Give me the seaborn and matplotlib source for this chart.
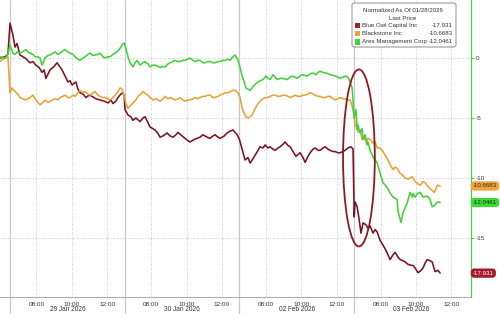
import matplotlib
matplotlib.use("Agg")
import matplotlib.pyplot as plt
import matplotlib.transforms as mtransforms
from matplotlib.patches import Ellipse, FancyBboxPatch, Rectangle
import seaborn as sns
import pandas as pd

# ---------------- data (trading minutes since 29 Jan open, % change) ----------------
owl_t = [-34, -17, -7, 0, 3, 10, 17, 24, 34, 51, 68, 78, 88, 99, 109, 116, 122, 136, 150, 160,
         177, 187, 197, 204, 211, 218, 224, 231, 238, 248, 258, 269, 279, 292, 306, 320, 333, 343,
         350, 360, 367, 377, 384, 388, 391, 401, 411, 418, 428, 442, 452, 459, 469, 476, 486, 493,
         503, 510, 520, 534, 544, 554, 564, 571, 585, 595, 605, 612, 626, 636, 646, 656, 670, 680,
         690, 697, 707, 714, 728, 738, 748, 758, 765, 772, 780, 789, 799, 809, 816, 826, 833, 843,
         850, 860, 867, 877, 884, 894, 901, 911, 918, 928, 935, 945, 952, 962, 972, 986, 996, 1003,
         1013, 1020, 1030, 1037, 1047, 1054, 1064, 1071, 1081, 1088, 1098, 1105, 1115, 1122, 1132,
         1139, 1149, 1159, 1166, 1170, 1173, 1180, 1187, 1193, 1200, 1210, 1217, 1224, 1234, 1241,
         1248, 1258, 1268, 1275, 1282, 1292, 1302, 1309, 1319, 1326, 1336, 1343, 1353, 1360, 1370,
         1377, 1387, 1397, 1404, 1411, 1418, 1428, 1435, 1445, 1455, 1462]
owl_v = [0.0, 0.1, 0.3, 2.9, 2.6, 1.9, 0.9, 1.2, 0.25, 0.0, -0.4, -0.3, -0.6, -0.8, -1.2, -1.0, -1.7,
         -1.0, -0.7, -0.4, -1.0, -1.5, -2.0, -1.9, -2.25, -2.1, -2.0, -2.6, -2.9, -3.0, -3.3, -3.1,
         -3.2, -3.4, -3.5, -3.6, -3.75, -3.5, -3.8, -3.6, -3.3, -3.0, -2.9, -3.2, -4.3, -4.75, -4.9,
         -5.2, -5.0, -5.3, -5.0, -4.9, -5.4, -5.75, -5.9, -6.0, -6.3, -6.6, -6.5, -6.25, -6.5, -6.6,
         -6.4, -6.2, -6.5, -6.7, -6.9, -7.0, -6.8, -6.7, -6.6, -6.4, -6.6, -6.7, -6.5, -6.4, -6.6,
         -6.7, -6.5, -6.25, -6.1, -6.0, -6.2, -6.4, -6.8, -7.6, -8.5, -8.3, -8.75, -8.4, -8.1, -7.7,
         -7.4, -7.5, -7.25, -7.5, -7.4, -7.6, -7.7, -7.5, -7.4, -7.2, -7.0, -7.3, -7.4, -7.8, -8.2,
         -7.9, -8.3, -8.7, -8.2, -7.9, -7.6, -7.5, -7.7, -7.7, -7.5, -7.4, -7.6, -7.7, -7.8, -7.8,
         -7.9, -7.9, -7.8, -7.7, -7.5, -7.4, -7.6, -13.25, -12.0, -12.4, -13.5, -14.6, -13.75,
         -13.9, -14.2, -14.0, -14.6, -14.3, -14.5, -15.2, -15.6, -15.9, -16.25, -16.8, -16.4, -16.2,
         -16.6, -16.8, -16.9, -17.0, -17.2, -17.25, -17.3, -17.5, -17.9, -17.7, -17.5, -17.1, -16.8,
         -16.9, -17.0, -17.8, -17.7, -17.931]

bx_t = [-34, -24, -14, -7, 0, 7, 17, 27, 34, 51, 61, 68, 78, 88, 95, 102, 112, 119, 129, 136, 153,
        163, 170, 180, 187, 197, 204, 214, 221, 231, 238, 248, 255, 265, 272, 282, 289, 299, 306,
        316, 323, 333, 340, 350, 357, 367, 374, 381, 388, 394, 401, 408, 418, 428, 435, 445, 452,
        462, 469, 476, 486, 496, 510, 520, 527, 537, 544, 554, 561, 571, 578, 588, 595, 605, 612,
        622, 629, 639, 646, 656, 663, 673, 680, 690, 697, 707, 714, 724, 731, 741, 748, 758, 765,
        775, 782, 789, 796, 802, 809, 816, 823, 830, 836, 843, 850, 860, 867, 877, 884, 894, 901,
        911, 918, 928, 935, 945, 952, 962, 969, 979, 986, 996, 1003, 1013, 1020, 1030, 1037, 1047,
        1054, 1064, 1071, 1081, 1088, 1098, 1105, 1115, 1122, 1132, 1139, 1149, 1156, 1163, 1170,
        1173, 1180, 1183, 1190, 1197, 1204, 1210, 1217, 1224, 1234, 1241, 1248, 1258, 1268, 1275,
        1285, 1292, 1302, 1309, 1316, 1326, 1336, 1343, 1353, 1360, 1367, 1377, 1387, 1394, 1404,
        1411, 1421, 1428, 1442, 1448, 1452, 1462]
bx_v = [-0.3, -0.1, 0.0, 0.1, -2.9, -2.5, -2.8, -3.0, -3.3, -3.5, -3.4, -3.3, -3.1, -3.5, -3.7,
        -3.9, -3.7, -3.5, -3.7, -3.6, -3.4, -3.5, -3.3, -3.2, -3.1, -3.3, -3.3, -3.1, -3.2, -2.9,
        -2.7, -2.9, -2.8, -3.0, -3.1, -2.9, -2.8, -3.1, -3.2, -3.3, -3.3, -3.4, -3.5, -3.3, -3.1,
        -2.8, -2.5, -2.6, -3.2, -3.8, -4.2, -4.0, -3.75, -3.5, -3.2, -3.0, -2.8, -3.0, -3.1, -3.3,
        -3.5, -3.4, -3.6, -3.4, -3.2, -3.4, -3.3, -3.4, -3.5, -3.4, -3.3, -3.5, -3.6, -3.5, -3.5,
        -3.4, -3.3, -3.4, -3.3, -3.2, -3.2, -3.1, -3.1, -3.3, -3.3, -3.2, -3.1, -3.0, -2.9, -2.9,
        -2.8, -2.7, -2.7, -2.9, -3.3, -4.2, -4.6, -4.9, -5.0, -4.9, -4.75, -4.4, -4.1, -3.8, -3.6,
        -3.4, -3.3, -3.3, -3.2, -3.1, -3.1, -3.2, -3.2, -3.1, -3.1, -3.2, -3.3, -3.2, -3.1, -3.2,
        -3.2, -3.1, -3.1, -3.0, -2.9, -3.0, -3.1, -3.2, -3.2, -3.3, -3.3, -3.2, -3.2, -3.4, -3.5,
        -3.4, -3.3, -3.4, -3.4, -3.5, -3.5, -4.0, -4.9, -5.7, -5.5, -6.2, -6.0, -6.8, -6.6, -7.0,
        -6.7, -6.8, -7.1, -7.0, -7.5, -7.5, -7.8, -8.1, -8.5, -8.9, -9.3, -9.1, -9.2, -9.6, -9.8,
        -10.0, -10.1, -10.0, -9.9, -10.3, -10.5, -10.6, -10.3, -10.4, -10.7, -10.9, -11.2, -10.9,
        -10.6, -10.6683]

ares_t = [-34, -24, -17, -7, 0, 7, 10, 17, 24, 34, 41, 48, 54, 61, 68, 78, 85, 95, 102, 109, 116,
          119, 129, 136, 146, 153, 163, 170, 180, 187, 197, 204, 214, 221, 231, 238, 248, 255, 265,
          272, 282, 289, 299, 306, 316, 323, 333, 340, 350, 357, 367, 374, 381, 388, 394, 401, 408,
          418, 425, 432, 442, 452, 459, 469, 476, 486, 493, 503, 510, 520, 527, 537, 544, 554, 561,
          571, 578, 588, 595, 605, 612, 622, 629, 639, 646, 656, 663, 673, 680, 690, 697, 707, 714,
          724, 731, 741, 748, 758, 765, 775, 782, 789, 796, 802, 809, 816, 826, 833, 843, 850, 860,
          870, 877, 884, 894, 901, 908, 918, 925, 935, 942, 952, 959, 969, 976, 986, 993, 1003, 1010,
          1020, 1027, 1034, 1040, 1047, 1054, 1064, 1071, 1081, 1088, 1098, 1105, 1115, 1122, 1132,
          1139, 1149, 1156, 1163, 1170, 1176, 1180, 1183, 1190, 1197, 1200, 1207, 1214, 1217, 1224,
          1234, 1248, 1258, 1268, 1282, 1292, 1302, 1316, 1319, 1329, 1336, 1350, 1360, 1367, 1370,
          1377, 1384, 1394, 1404, 1418, 1428, 1435, 1445, 1452, 1462]
ares_v = [0.1, 0.0, 0.0, 0.3, 1.1, 0.6, 0.4, 0.3, 0.5, 0.4, 0.5, 0.6, 0.7, 0.5, 0.4, 0.3, 0.1, 0.1,
          0.0, -0.6, -0.2, 0.0, 0.2, 0.25, 0.4, 0.5, 0.3, 0.4, 0.6, 0.7, 0.5, 0.4, 0.3, 0.1, -0.1,
          -0.2, 0.0, 0.1, 0.3, 0.4, 0.2, 0.25, 0.3, 0.4, 0.1, 0.0, 0.1, 0.1, 0.3, 0.4, 0.6, 0.8, 1.1,
          1.25, 0.8, 0.1, -0.4, -0.75, -0.4, -0.2, -0.6, -0.4, -0.3, -0.5, -0.75, -0.6, -0.6, -0.7,
          -0.8, -0.7, -0.75, -0.5, -0.4, -0.3, -0.2, -0.3, -0.3, -0.2, -0.2, -0.1, 0.0, -0.2, -0.3,
          -0.2, -0.2, -0.4, -0.4, -0.3, -0.3, -0.4, -0.4, -0.3, -0.3, -0.2, -0.2, -0.1, -0.2, 0.1,
          0.25, -0.2, -0.8, -1.5, -2.0, -2.5, -2.6, -2.7, -2.4, -2.2, -2.0, -1.9, -1.8, -1.5, -1.7,
          -1.8, -1.4, -1.6, -1.8, -1.7, -1.7, -1.75, -1.8, -1.6, -1.5, -1.6, -1.7, -1.5, -1.4, -1.45,
          -1.5, -1.35, -1.25, -1.3, -1.4, -1.2, -1.1, -1.2, -1.25, -1.3, -1.4, -1.45, -1.5, -1.6,
          -1.7, -1.6, -1.5, -1.6, -2.0, -2.5, -5.0, -4.3, -6.0, -5.6, -6.25, -5.9, -6.8, -6.4, -7.25,
          -7.0, -7.7, -8.25, -8.75, -9.6, -10.4, -10.8, -11.25, -11.6, -11.8, -12.8, -13.7, -12.9,
          -12.1, -11.2, -11.6, -11.3, -11.6, -11.3, -11.2, -11.6, -11.5, -11.8, -12.4, -12.25, -12.0,
          -12.0461]

names = ["Blue Owl Capital Inc", "Blackstone Inc", "Ares Management Corp"]
last_labels = ["-17.931", "-10.6683", "-12.0461"]
colors = ["#7a1424", "#e8a236", "#44d13a"]
box_colors = ["#a51c2e", "#eda43a", "#3fd63a"]
box_text = ["white", "#3a2a10", "#12330f"]

days = ["29 Jan 2026", "30 Jan 2026", "02 Feb 2026", "03 Feb 2026"]
tick_times = ["08:00", "10:00", "12:00"]
tick_offsets = [90, 210, 330]          # minutes after 06:30 session open
session_len = 390
yticks = [0, -5, -10, -15]
legend_title = "Normalized As Of 01/28/2026"
legend_sub = "Last Price"

# ---------------- build long table ----------------
frames = []
for n, t, v in zip(names, [owl_t, bx_t, ares_t], [owl_v, bx_v, ares_v]):
    frames.append(pd.DataFrame({"t": t, "v": v, "series": n}))
df = pd.concat(frames, ignore_index=True)

sns.set_style("white")
plt.rcParams["font.family"] = ["Liberation Sans", "DejaVu Sans"]
plt.rcParams["axes.unicode_minus"] = False

W, H = 500, 314
fig = plt.figure(figsize=(W / 100, H / 100), dpi=100)
ax = fig.add_axes([0, 1 - 297 / H, 471 / W, 297 / H])

grid_kw = dict(color="#b8b8b8", lw=0.6, ls=(0, (1, 2)), zorder=0)
for y in yticks:
    ax.axhline(y, **grid_kw)
for d in range(len(days)):
    for off in tick_offsets:
        ax.axvline(d * session_len + off, **grid_kw)
    ax.axvline(d * session_len, ymin=-0.06, ymax=1, color="#c8c8c8", lw=0.9,
               clip_on=False, zorder=0)

sns.lineplot(data=df, x="t", y="v", hue="series", hue_order=names, palette=colors,
             estimator=None, sort=False, legend=False, linewidth=1.15, ax=ax, zorder=3)

ax.set_xlim(-34, 1567)
ax.set_ylim(-19.92, 4.83)

# ellipse annotation around the 03 Feb open
ax.add_patch(Ellipse((1186, -8.33), width=108, height=14.75, fill=False,
                     ec="#8a1c22", lw=1.3, zorder=4))

# axes styling
for s in ["left", "top"]:
    ax.spines[s].set_visible(False)
ax.spines["right"].set_color("#4ccf45")
ax.spines["right"].set_linewidth(0.9)
ax.spines["bottom"].set_color("#9a9a9a")
ax.spines["bottom"].set_linewidth(0.6)
ax.spines["bottom"].set_linestyle((0, (1, 1)))

ax.yaxis.tick_right()
ax.set_yticks(yticks)
ax.set_yticklabels([str(y) for y in yticks])
ax.tick_params(axis="y", colors="#4ccf45", length=2.5, width=0.8, pad=1,
               labelsize=4.6, labelcolor="#333333")

xt = [d * session_len + o for d in range(len(days)) for o in tick_offsets]
ax.set_xticks(xt)
ax.set_xticklabels(tick_times * len(days))
ax.set_xticks([d * session_len + m for d in range(len(days)) for m in range(0, session_len, 30)],
              minor=True)
ax.tick_params(axis="x", which="major", length=2, width=0.5, color="#9a9a9a", pad=1.5,
               labelsize=4.6, labelcolor="#333333")
ax.tick_params(axis="x", which="minor", length=1.2, width=0.4, color="#9a9a9a")
ax.set_xlabel("")
ax.set_ylabel("")

trans = mtransforms.blended_transform_factory(ax.transData, ax.transAxes)
for d, lab in enumerate(days):
    ax.text(d * session_len + session_len / 2, -0.043, lab, transform=trans,
            ha="center", va="center", fontsize=4.7, color="#333333")

# last-value boxes on the right axis
ytrans = ax.get_yaxis_transform()
for lab, val, fc, tc in zip(last_labels, [owl_v[-1], bx_v[-1], ares_v[-1]], box_colors, box_text):
    ax.annotate(lab, xy=(1.004, val), xycoords=ytrans, ha="left", va="center",
                fontsize=4.4, color=tc, annotation_clip=False, zorder=6,
                bbox=dict(boxstyle="round,pad=0.35,rounding_size=0.6", fc=fc, ec="none"))

# custom legend box
fx = lambda px: px / W
fy = lambda py: 1 - py / H
fig.patches.append(FancyBboxPatch((fx(352), fy(47)), fx(456) - fx(352), fy(3) - fy(47),
                                  boxstyle="round,pad=0,rounding_size=0.006",
                                  transform=fig.transFigure, fc="white", ec="#8c8c8c",
                                  lw=0.7, zorder=10))
fig.text(fx(403), fy(10.5), legend_title, ha="center", va="center", fontsize=4.4,
         color="#333333", zorder=11)
fig.text(fx(403), fy(18), legend_sub, ha="center", va="center", fontsize=4.4,
         color="#333333", zorder=11)
sq_colors = [box_colors[0], colors[1], colors[2]]
for i, (n, lab) in enumerate(zip(names, last_labels)):
    yy = 25.5 + i * 8.2
    fig.patches.append(Rectangle((fx(354.5), fy(yy + 2.7)), fx(5.5), fy(0) - fy(5.4),
                                 transform=fig.transFigure, fc=sq_colors[i],
                                 ec="none", zorder=11))
    fig.text(fx(362), fy(yy), n, ha="left", va="center", fontsize=4.4, color="#333333", zorder=11)
    fig.text(fx(453), fy(yy), lab, ha="right", va="center", fontsize=4.4, color="#333333", zorder=11)

fig.savefig("out.png", dpi=100, facecolor="white")
